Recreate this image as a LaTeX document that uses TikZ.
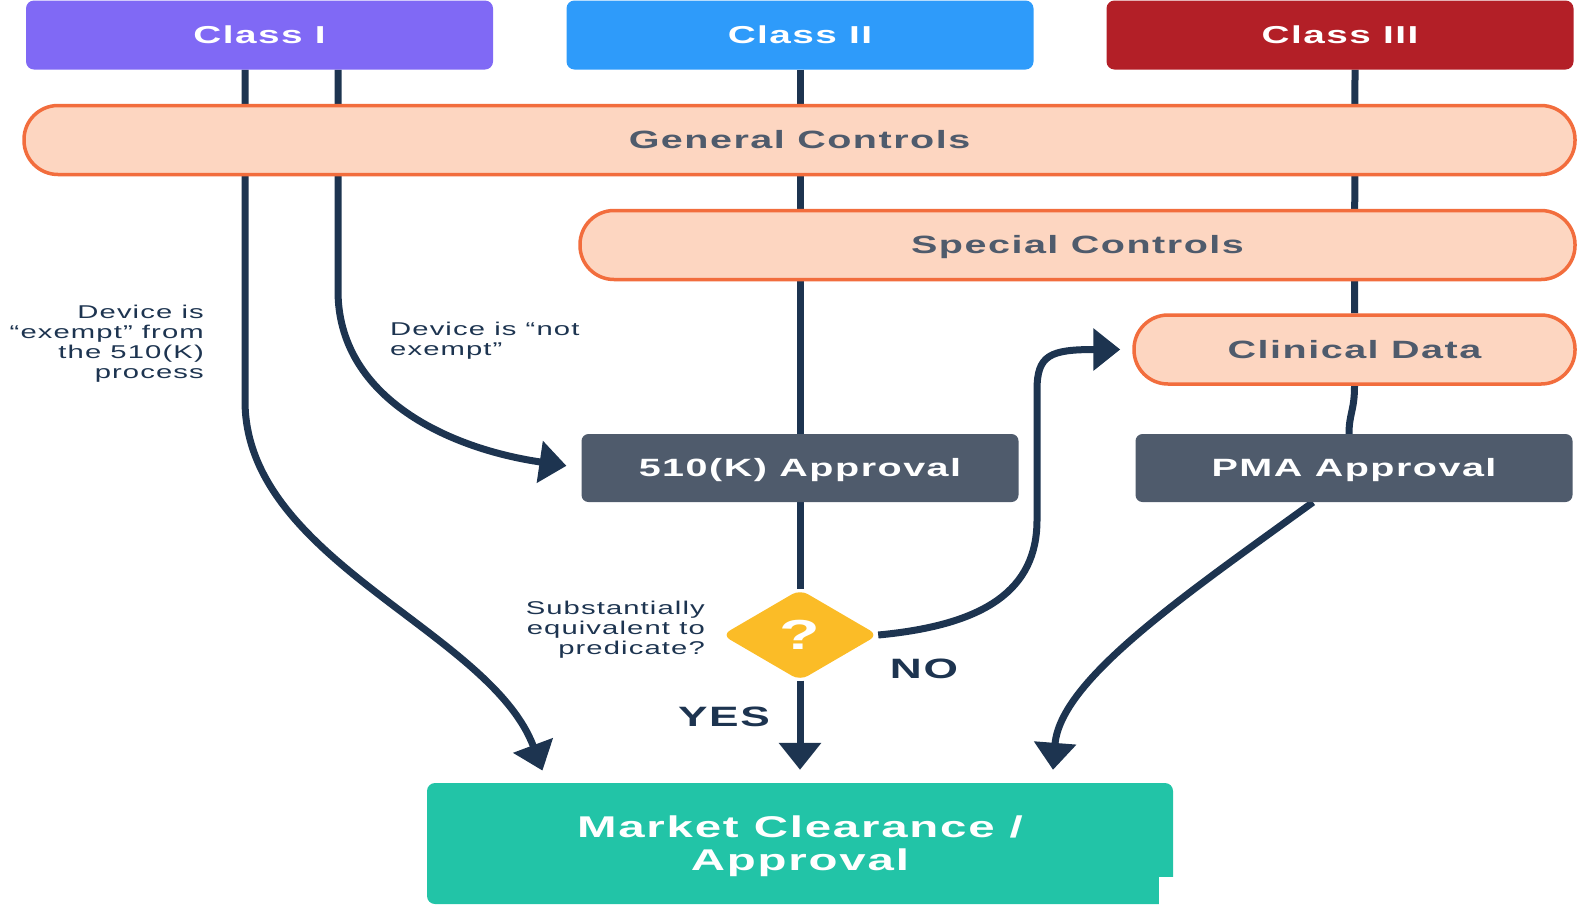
\documentclass[tikz,border=0pt]{standalone}
\usepackage{fontspec}
\setmainfont{Liberation Sans}[FakeStretch=1.58,LetterSpace=6]
\usetikzlibrary{arrows.meta,shapes.geometric}
\definecolor{cpurple}{HTML}{8069F5}
\definecolor{cblue}{HTML}{2E9BFA}
\definecolor{cred}{HTML}{B31F27}
\definecolor{peach}{HTML}{FDD6C1}
\definecolor{corange}{HTML}{F26D3D}
\definecolor{slate}{HTML}{4F5B6C}
\definecolor{navy}{HTML}{1D3450}
\definecolor{cyellow}{HTML}{FBBC27}
\definecolor{teal2}{HTML}{22C4A7}
\pgfdeclarelayer{bg}
\pgfsetlayers{bg,main}
\begin{document}
\begin{tikzpicture}[x=1pt,y=-1pt,
  cls/.style={rectangle,rounded corners=8pt,minimum width=467pt,minimum height=69pt,inner sep=0pt,text height=17.5pt,text depth=0pt,text=white,font=\fontsize{24.5}{27}\selectfont\bfseries},
  pill/.style={rectangle,rounded corners=34pt,fill=peach,draw=corange,line width=3.5pt,minimum height=69pt,inner sep=0pt,text height=17.9pt,text depth=0pt,text=slate,font=\fontsize{25}{30}\selectfont\bfseries},
  appr/.style={rectangle,rounded corners=7pt,fill=slate,minimum width=437pt,minimum height=68pt,inner sep=0pt,text height=17.9pt,text depth=0pt,text=white,font=\fontsize{25}{30}\selectfont\bfseries},
  note/.style={inner sep=0pt,text=navy,font=\fontsize{18.5}{20}\selectfont},
  yn/.style={inner sep=0pt,text=navy,font=\fontsize{28}{30}\selectfont\bfseries},
  flow/.style={draw=navy,line width=7pt},
  arr/.style={flow,-{Triangle[length=27pt,width=41pt]}}
]
\useasboundingbox (0,0) rectangle (1578,906);
% class boxes
\node[cls,fill=cpurple] (c1) at (259.5,35) {Class I};
\node[cls,fill=cblue] (c2) at (800,35) {Class II};
\node[cls,fill=cred] (c3) at (1340,35) {Class III};
% pills
\node[pill,minimum width=1551pt] (gen) at (799.5,140) {General Controls};
\node[pill,minimum width=995pt] (spec) at (1077.5,245) {Special Controls};
\node[pill,minimum width=441pt] (clin) at (1354.5,349.5) {Clinical Data};
% approvals
\node[appr] (k510) at (800,468) {510(K) Approval};
\node[appr] (pma) at (1354,468) {PMA Approval};
% diamond
\node[diamond,aspect=1.7,minimum width=156pt,minimum height=91pt,inner sep=0pt,fill=cyellow,rounded corners=9pt,text=white,font=\fontsize{42}{42}\selectfont\bfseries] (dia) at (800,635) {?};
% market
\node[rectangle,rounded corners=8pt,fill=teal2,minimum width=746pt,minimum height=121pt,inner sep=0pt,text depth=0pt,text=white,align=center,font=\fontsize{30}{33}\selectfont\bfseries] (mkt) at (800,843.5) {Market Clearance /\\Approval};
\fill[white] (1159,877) rectangle (1174,906);
% notes
\node[note,align=right,anchor=east] (n1) at (204,344) {Device is\\“exempt” from\\the 510(K)\\process};
\node[note,align=left,anchor=west] (n2) at (390,341) {Device is “not\\exempt”};
\node[note,align=right,anchor=east] (n3) at (705,630) {Substantially\\equivalent to\\predicate?};
\node[yn] (no) at (924,669) {NO};
\node[yn] (yes) at (724,717) {YES};
% connectors
\begin{pgfonlayer}{bg}
\draw[arr,shorten >=13pt] ([xshift=-14.5pt]c1.south) -- ++(0,331) .. controls +(0,160) and (490,630) .. ([xshift=-253pt]mkt.north);
\draw[arr,shorten >=15pt] ([xshift=78.5pt]c1.south) -- ++(0,221) .. controls +(0,105) and (445,448) .. (k510.west);
\draw[flow] (c2.south) -- (k510.north);
\draw[flow] (k510.south) -- (dia.north);
\draw[arr,shorten >=13pt] (dia.south) -- (mkt.north);
\draw[flow] ([xshift=15pt]c3.south) -- (clin.north);
\draw[flow] (clin.south) .. controls +(0,25) and +(0,-20) .. ([xshift=-5pt]pma.north);
\draw[arr,shorten >=13pt] ([xshift=-41pt]pma.south) .. controls (1185,595) and (1060,680) .. ([xshift=252pt]mkt.north);
\draw[arr,shorten >=12pt] (dia.east) .. controls (985,625) and (1037,590) .. (1037,520) -- (1037,390) .. controls (1037,355) and (1050,349.5) .. (clin.west);
\end{pgfonlayer}
\end{tikzpicture}
\end{document}
